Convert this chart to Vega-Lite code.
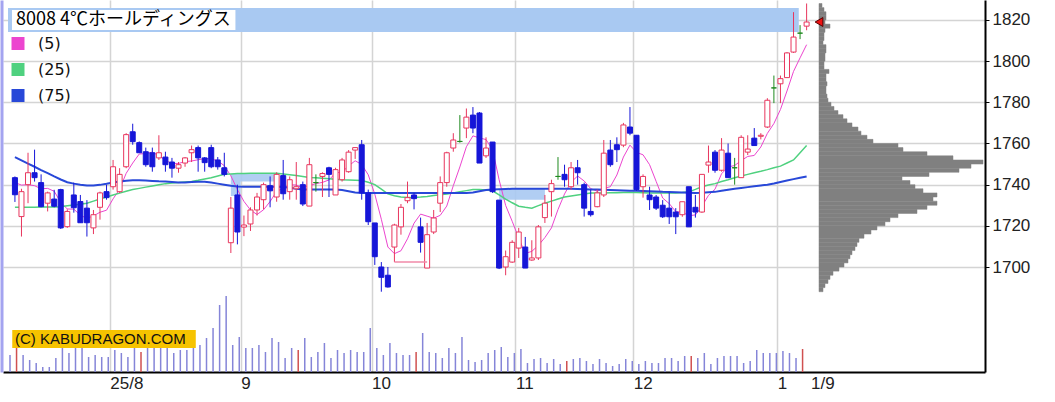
{
"$schema":"https://vega.github.io/schema/vega-lite/v6.json",
"width":982,"height":372,
"autosize":{"type":"none"},
"padding":{"left":3,"top":0,"right":70,"bottom":30},
"background":"#ffffff",
"config":{"view":{"stroke":null}},
"datasets":{
"p":[
{"d":"2025-07-10","i":0,"o":1743.4,"h":1744,"l":1731.6,"c":1735.1,"v":85000,"m5":1741,"m25":1729,"m75":1753.4},
{"d":"2025-07-11","i":1,"o":1724.5,"h":1738,"l":1714.8,"c":1736.6,"v":120000,"sq":1,"m5":1739.8,"m25":1729,"m75":1751.8},
{"d":"2025-07-14","i":2,"o":1740,"h":1755.5,"l":1731,"c":1745.8,"v":85000,"m5":1740,"m25":1729,"m75":1750.2},
{"d":"2025-07-15","i":3,"o":1745.8,"h":1757,"l":1741.5,"c":1743.4,"v":60000,"m5":1739.5,"m25":1729,"m75":1748.7},
{"d":"2025-07-16","i":4,"o":1741,"h":1745,"l":1729,"c":1729.3,"v":45000,"m5":1738,"m25":1729.1,"m75":1747.1},
{"d":"2025-07-17","i":5,"o":1731,"h":1736.6,"l":1727,"c":1736,"v":25000,"m5":1738.2,"m25":1729.1,"m75":1745.6},
{"d":"2025-07-18","i":6,"o":1733,"h":1737.5,"l":1729,"c":1729.5,"v":25000,"m5":1736.8,"m25":1729.2,"m75":1744},
{"d":"2025-07-22","i":7,"o":1737.6,"h":1738,"l":1718.5,"c":1719,"v":70000,"m5":1731.4,"m25":1729.3,"m75":1742.5},
{"d":"2025-07-23","i":8,"o":1719.6,"h":1728,"l":1719,"c":1727,"v":120000,"m5":1728.2,"m25":1729.7,"m75":1741.2},
{"d":"2025-07-24","i":9,"o":1735,"h":1741,"l":1726.4,"c":1728.8,"v":95000,"m5":1728.1,"m25":1730.1,"m75":1740.5},
{"d":"2025-07-25","i":10,"o":1731.8,"h":1735,"l":1721.5,"c":1721.5,"v":120000,"m5":1725.2,"m25":1730.5,"m75":1740},
{"d":"2025-07-28","i":11,"o":1728.6,"h":1732.5,"l":1714.8,"c":1721.5,"v":120000,"m5":1723.6,"m25":1731,"m75":1739.6},
{"d":"2025-07-29","i":12,"o":1719,"h":1727.7,"l":1716,"c":1725.4,"v":75000,"m5":1724.8,"m25":1732,"m75":1739.6},
{"d":"2025-07-30","i":13,"o":1729,"h":1736.6,"l":1723,"c":1736,"v":85000,"m5":1726.6,"m25":1733,"m75":1739.9},
{"d":"2025-07-31","i":14,"o":1736.6,"h":1740,"l":1732.7,"c":1733.7,"v":75000,"m5":1727.6,"m25":1734,"m75":1740.4},
{"d":"2025-08-01","i":15,"o":1739,"h":1752,"l":1737.6,"c":1748.7,"v":75000,"m5":1733.1,"m25":1735,"m75":1741},
{"d":"2025-08-04","i":16,"o":1736.6,"h":1748,"l":1736,"c":1745,"v":110000,"m5":1737.8,"m25":1735.9,"m75":1741.5},
{"d":"2025-08-05","i":17,"o":1748.7,"h":1765,"l":1748,"c":1764.3,"v":95000,"m5":1745.5,"m25":1736.8,"m75":1741.9},
{"d":"2025-08-06","i":18,"o":1765.7,"h":1769.6,"l":1759.4,"c":1760.9,"v":75000,"m5":1750.5,"m25":1737.6,"m75":1742.2},
{"d":"2025-08-07","i":19,"o":1760.4,"h":1761,"l":1755.5,"c":1755.5,"v":120000,"m5":1754.9,"m25":1738.2,"m75":1742.2},
{"d":"2025-08-08","i":20,"o":1756,"h":1758,"l":1748.7,"c":1749.7,"v":100000,"sq":1,"m5":1755.1,"m25":1738.8,"m75":1742},
{"d":"2025-08-12","i":21,"o":1755.5,"h":1758,"l":1746.3,"c":1748.7,"v":120000,"m5":1755.8,"m25":1739.4,"m75":1741.8},
{"d":"2025-08-13","i":22,"o":1753,"h":1764,"l":1752,"c":1755.5,"v":120000,"m5":1754.1,"m25":1740,"m75":1741.6},
{"d":"2025-08-14","i":23,"o":1753.4,"h":1756,"l":1746.3,"c":1749.7,"v":120000,"m5":1751.8,"m25":1740.5,"m75":1741.5},
{"d":"2025-08-15","i":24,"o":1751,"h":1753,"l":1743.4,"c":1748,"v":120000,"m5":1750.3,"m25":1740.8,"m75":1741.3},
{"d":"2025-08-18","i":25,"o":1748,"h":1751,"l":1745.8,"c":1749.7,"v":95000,"m5":1750.3,"m25":1741,"m75":1741.1},
{"d":"2025-08-19","i":26,"o":1750.5,"h":1753.4,"l":1748.7,"c":1753,"v":110000,"m5":1751.2,"m25":1741.3,"m75":1741.1},
{"d":"2025-08-20","i":27,"o":1755.5,"h":1759,"l":1751,"c":1757,"v":110000,"m5":1751.5,"m25":1741.5,"m75":1741.3},
{"d":"2025-08-21","i":28,"o":1758,"h":1759,"l":1746.3,"c":1753,"v":120000,"m5":1752.1,"m25":1742.1,"m75":1741.4},
{"d":"2025-08-22","i":29,"o":1753,"h":1753.4,"l":1746.3,"c":1750.7,"v":135000,"m5":1752.7,"m25":1742.8,"m75":1741.4},
{"d":"2025-08-25","i":30,"o":1758,"h":1759.4,"l":1748,"c":1748.7,"v":170000,"m5":1752.5,"m25":1743.4,"m75":1741},
{"d":"2025-08-26","i":31,"o":1752,"h":1753.4,"l":1747.3,"c":1748.7,"v":220000,"m5":1751.6,"m25":1744.2,"m75":1740.5},
{"d":"2025-08-27","i":32,"o":1748.2,"h":1755.5,"l":1744,"c":1745,"v":335000,"m5":1749.2,"m25":1745,"m75":1740},
{"d":"2025-08-28","i":33,"o":1711.8,"h":1734,"l":1706.8,"c":1728.6,"v":380000,"m5":1744.3,"m25":1745.2,"m75":1739.5},
{"d":"2025-08-29","i":34,"o":1735,"h":1740,"l":1711,"c":1717,"v":135000,"m5":1737.6,"m25":1745.4,"m75":1739.1},
{"d":"2025-09-01","i":35,"o":1719.4,"h":1725,"l":1715,"c":1720.4,"v":175000,"m5":1731.9,"m25":1745.4,"m75":1739},
{"d":"2025-09-02","i":36,"o":1720.9,"h":1729,"l":1717.5,"c":1727.7,"v":120000,"m5":1727.7,"m25":1745.5,"m75":1739},
{"d":"2025-09-03","i":37,"o":1727.7,"h":1736,"l":1725,"c":1734,"v":120000,"m5":1725.5,"m25":1745.5,"m75":1739},
{"d":"2025-09-04","i":38,"o":1732.7,"h":1741,"l":1728,"c":1740,"v":135000,"m5":1727.8,"m25":1745.6,"m75":1739},
{"d":"2025-09-05","i":39,"o":1739.5,"h":1744,"l":1729,"c":1737,"v":100000,"m5":1731.8,"m25":1745.6,"m75":1739},
{"d":"2025-09-08","i":40,"o":1734,"h":1746,"l":1731.7,"c":1745,"v":170000,"m5":1736.7,"m25":1745.6,"m75":1739},
{"d":"2025-09-09","i":41,"o":1744.4,"h":1752,"l":1732.7,"c":1735.6,"v":150000,"m5":1738.3,"m25":1745.2,"m75":1738.9},
{"d":"2025-09-10","i":42,"o":1736.6,"h":1744,"l":1732.7,"c":1742.4,"v":70000,"m5":1740,"m25":1744.8,"m75":1738.5},
{"d":"2025-09-11","i":43,"o":1738,"h":1751,"l":1732.7,"c":1739,"v":120000,"m5":1739.8,"m25":1744.4,"m75":1738},
{"d":"2025-09-12","i":44,"o":1740,"h":1741.5,"l":1729.6,"c":1730.6,"v":110000,"sq":1,"m5":1738.5,"m25":1744,"m75":1737.7},
{"d":"2025-09-16","i":45,"o":1729.6,"h":1753,"l":1729.6,"c":1749.7,"v":170000,"m5":1739.5,"m25":1743.5,"m75":1737.6},
{"d":"2025-09-17","i":46,"o":1741,"h":1745,"l":1736.6,"c":1741,"v":75000,"m5":1740.5,"m25":1743.3,"m75":1737.6},
{"d":"2025-09-18","i":47,"o":1744,"h":1746,"l":1734,"c":1745.4,"v":100000,"m5":1741.1,"m25":1743.1,"m75":1737.6},
{"d":"2025-09-19","i":48,"o":1748.2,"h":1748.7,"l":1734,"c":1745,"v":145000,"m5":1742.3,"m25":1742.9,"m75":1737.6},
{"d":"2025-09-22","i":49,"o":1735,"h":1748.2,"l":1735,"c":1747.3,"v":70000,"m5":1745.7,"m25":1742.6,"m75":1737.6},
{"d":"2025-09-24","i":50,"o":1742.4,"h":1753,"l":1741.5,"c":1752,"v":110000,"m5":1746.1,"m25":1742.4,"m75":1737.4},
{"d":"2025-09-25","i":51,"o":1746.3,"h":1756.8,"l":1745.8,"c":1755.8,"v":95000,"m5":1749.1,"m25":1742.3,"m75":1736.8},
{"d":"2025-09-26","i":52,"o":1756.8,"h":1758.2,"l":1752.5,"c":1758,"v":110000,"m5":1751.6,"m25":1742.2,"m75":1736.2},
{"d":"2025-09-29","i":53,"o":1759.4,"h":1761.7,"l":1732.7,"c":1736,"v":100000,"m5":1749.8,"m25":1742,"m75":1736},
{"d":"2025-09-30","i":54,"o":1736,"h":1737.6,"l":1720.4,"c":1722,"v":100000,"m5":1744.8,"m25":1741.2,"m75":1736},
{"d":"2025-10-01","i":55,"o":1721.4,"h":1721.4,"l":1701,"c":1705,"v":220000,"m5":1735.4,"m25":1740,"m75":1736},
{"d":"2025-10-02","i":56,"o":1700,"h":1702.4,"l":1688,"c":1695,"v":120000,"m5":1723.2,"m25":1737.8,"m75":1736},
{"d":"2025-10-03","i":57,"o":1696,"h":1700,"l":1690,"c":1690.3,"v":85000,"m5":1709.7,"m25":1735.5,"m75":1736},
{"d":"2025-10-06","i":58,"o":1709.7,"h":1721,"l":1702.4,"c":1720.4,"v":145000,"m5":1706.5,"m25":1734.6,"m75":1736},
{"d":"2025-10-07","i":59,"o":1719.5,"h":1730.6,"l":1715.7,"c":1729,"v":95000,"m5":1707.9,"m25":1734,"m75":1736},
{"d":"2025-10-08","i":60,"o":1732.2,"h":1741.5,"l":1731,"c":1733.7,"v":85000,"m5":1713.7,"m25":1733.8,"m75":1736},
{"d":"2025-10-09","i":61,"o":1735,"h":1736,"l":1728,"c":1733.2,"v":85000,"m5":1721.3,"m25":1733.8,"m75":1736},
{"d":"2025-10-10","i":62,"o":1719.5,"h":1724,"l":1707,"c":1712,"v":100000,"sq":1,"m5":1725.7,"m25":1734,"m75":1736},
{"d":"2025-10-14","i":63,"o":1699.5,"h":1721.4,"l":1699.5,"c":1715.7,"v":195000,"m5":1724.7,"m25":1734.3,"m75":1736},
{"d":"2025-10-15","i":64,"o":1717,"h":1727.7,"l":1716,"c":1723.8,"v":100000,"m5":1723.7,"m25":1734.7,"m75":1736},
{"d":"2025-10-16","i":65,"o":1731,"h":1744,"l":1726.7,"c":1741,"v":95000,"m5":1725.1,"m25":1735.1,"m75":1736},
{"d":"2025-10-17","i":66,"o":1741,"h":1756,"l":1739,"c":1755.5,"v":70000,"m5":1729.6,"m25":1735.5,"m75":1736},
{"d":"2025-10-20","i":67,"o":1757.8,"h":1765,"l":1756,"c":1761.7,"v":120000,"m5":1739.5,"m25":1736,"m75":1736},
{"d":"2025-10-21","i":68,"o":1761,"h":1773.8,"l":1760.4,"c":1761,"v":95000,"m5":1748.6,"m25":1736.6,"m75":1736},
{"d":"2025-10-22","i":69,"o":1767.5,"h":1777,"l":1762.6,"c":1772.8,"v":175000,"m5":1758.4,"m25":1737.1,"m75":1736},
{"d":"2025-10-23","i":70,"o":1773.8,"h":1777.7,"l":1765,"c":1767.5,"v":60000,"m5":1763.7,"m25":1737.6,"m75":1736.2},
{"d":"2025-10-24","i":71,"o":1774.8,"h":1775.3,"l":1750.5,"c":1750.5,"v":50000,"m5":1762.7,"m25":1737.6,"m75":1736.8},
{"d":"2025-10-27","i":72,"o":1754,"h":1763,"l":1753,"c":1757.8,"v":60000,"m5":1761.9,"m25":1737.4,"m75":1737.4},
{"d":"2025-10-28","i":73,"o":1760.7,"h":1760.7,"l":1736,"c":1736.6,"v":95000,"m5":1757,"m25":1737,"m75":1737.7},
{"d":"2025-10-29","i":74,"o":1732.5,"h":1732.5,"l":1699,"c":1699.5,"v":110000,"m5":1742.4,"m25":1735,"m75":1737.8},
{"d":"2025-10-30","i":75,"o":1700,"h":1708,"l":1696,"c":1705,"v":125000,"m5":1729.9,"m25":1733,"m75":1737.9},
{"d":"2025-10-31","i":76,"o":1702.4,"h":1713,"l":1702,"c":1712,"v":75000,"m5":1722.2,"m25":1731.2,"m75":1738},
{"d":"2025-11-04","i":77,"o":1709.2,"h":1719,"l":1704.4,"c":1717,"v":95000,"m5":1714,"m25":1729.5,"m75":1738},
{"d":"2025-11-05","i":78,"o":1709.7,"h":1714.6,"l":1699.5,"c":1699.5,"v":115000,"m5":1706.6,"m25":1729,"m75":1738},
{"d":"2025-11-06","i":79,"o":1703.4,"h":1713,"l":1703,"c":1704.4,"v":45000,"m5":1707.6,"m25":1728.6,"m75":1738},
{"d":"2025-11-07","i":80,"o":1704.4,"h":1720.4,"l":1703.4,"c":1719.5,"v":65000,"m5":1710.5,"m25":1729.8,"m75":1738},
{"d":"2025-11-10","i":81,"o":1724,"h":1735,"l":1721.4,"c":1731,"v":70000,"m5":1714.3,"m25":1731,"m75":1738},
{"d":"2025-11-11","i":82,"o":1736.6,"h":1742.4,"l":1724.5,"c":1740.5,"v":45000,"m5":1719,"m25":1732,"m75":1738},
{"d":"2025-11-12","i":83,"o":1744,"h":1753.4,"l":1742.4,"c":1744,"v":65000,"m5":1727.9,"m25":1733,"m75":1738},
{"d":"2025-11-13","i":84,"o":1745,"h":1749.7,"l":1739,"c":1742.4,"v":40000,"m5":1735.5,"m25":1734,"m75":1738},
{"d":"2025-11-14","i":85,"o":1739,"h":1751,"l":1737.6,"c":1748.2,"v":55000,"sq":1,"m5":1741.2,"m25":1734.5,"m75":1738},
{"d":"2025-11-17","i":86,"o":1748.2,"h":1752,"l":1740,"c":1745.8,"v":65000,"m5":1744.2,"m25":1735,"m75":1737.9},
{"d":"2025-11-18","i":87,"o":1740,"h":1741,"l":1724.5,"c":1728.6,"v":70000,"m5":1741.8,"m25":1735.5,"m75":1737.8},
{"d":"2025-11-19","i":88,"o":1727,"h":1737.6,"l":1724.5,"c":1725.4,"v":55000,"m5":1738.1,"m25":1736,"m75":1737.7},
{"d":"2025-11-20","i":89,"o":1729.3,"h":1737.6,"l":1729,"c":1736,"v":40000,"m5":1736.8,"m25":1736,"m75":1737.6},
{"d":"2025-11-21","i":90,"o":1735,"h":1761.7,"l":1734,"c":1755.3,"v":65000,"m5":1738.2,"m25":1736,"m75":1737.5},
{"d":"2025-11-25","i":91,"o":1756.8,"h":1761.7,"l":1748.7,"c":1749.7,"v":45000,"m5":1739,"m25":1736.1,"m75":1737.4},
{"d":"2025-11-26","i":92,"o":1759.4,"h":1763,"l":1751,"c":1757,"v":30000,"m5":1744.7,"m25":1736.1,"m75":1737.3},
{"d":"2025-11-27","i":93,"o":1759.2,"h":1770,"l":1758.2,"c":1769,"v":40000,"m5":1753.4,"m25":1736.2,"m75":1737.2},
{"d":"2025-11-28","i":94,"o":1768,"h":1777.7,"l":1764,"c":1765,"v":65000,"m5":1759.2,"m25":1736.2,"m75":1737.1},
{"d":"2025-12-01","i":95,"o":1764,"h":1764,"l":1737,"c":1737.6,"v":55000,"m5":1755.7,"m25":1736.2,"m75":1737},
{"d":"2025-12-02","i":96,"o":1739,"h":1745,"l":1733.7,"c":1744,"v":40000,"m5":1754.5,"m25":1736.1,"m75":1736.9},
{"d":"2025-12-03","i":97,"o":1735,"h":1739,"l":1727.7,"c":1732.7,"v":55000,"m5":1749.7,"m25":1736,"m75":1736.8},
{"d":"2025-12-04","i":98,"o":1734,"h":1735,"l":1727.7,"c":1728.6,"v":45000,"m5":1741.6,"m25":1736,"m75":1736.7},
{"d":"2025-12-05","i":99,"o":1730,"h":1732.5,"l":1723.8,"c":1724.4,"v":45000,"m5":1733.5,"m25":1735.9,"m75":1736.5},
{"d":"2025-12-08","i":100,"o":1728.6,"h":1736,"l":1720.9,"c":1724.4,"v":70000,"m5":1730.8,"m25":1735.9,"m75":1736.4},
{"d":"2025-12-09","i":101,"o":1726.7,"h":1728.6,"l":1716,"c":1724.4,"v":70000,"m5":1726.9,"m25":1736,"m75":1736.3},
{"d":"2025-12-10","i":102,"o":1725.4,"h":1731.7,"l":1724.4,"c":1731.7,"v":55000,"m5":1726.7,"m25":1736.2,"m75":1736.2},
{"d":"2025-12-11","i":103,"o":1739,"h":1739,"l":1719.5,"c":1719.5,"v":80000,"m5":1724.9,"m25":1736.5,"m75":1736.1},
{"d":"2025-12-12","i":104,"o":1729,"h":1735,"l":1724,"c":1726.7,"v":80000,"sq":1,"m5":1725.3,"m25":1737.7,"m75":1736},
{"d":"2025-12-15","i":105,"o":1726.7,"h":1745,"l":1726.3,"c":1745,"v":70000,"m5":1729.5,"m25":1739,"m75":1736.1},
{"d":"2025-12-16","i":106,"o":1749.5,"h":1759,"l":1745.8,"c":1751,"v":95000,"m5":1734.8,"m25":1739.8,"m75":1736.3},
{"d":"2025-12-17","i":107,"o":1755.8,"h":1756.8,"l":1745.8,"c":1747,"v":40000,"m5":1737.8,"m25":1740.5,"m75":1736.5},
{"d":"2025-12-18","i":108,"o":1747,"h":1762.6,"l":1746.3,"c":1756.8,"v":70000,"m5":1745.3,"m25":1741.5,"m75":1737},
{"d":"2025-12-19","i":109,"o":1755.3,"h":1760,"l":1743.4,"c":1743.4,"v":80000,"m5":1748.6,"m25":1742.4,"m75":1737.5},
{"d":"2025-12-22","i":110,"o":1748.2,"h":1753,"l":1740,"c":1748.2,"v":80000,"m5":1749.3,"m25":1743.4,"m75":1738},
{"d":"2025-12-23","i":111,"o":1743.4,"h":1764,"l":1743.4,"c":1763,"v":80000,"m5":1751.7,"m25":1744.2,"m75":1738.4},
{"d":"2025-12-24","i":112,"o":1755.8,"h":1764,"l":1754.4,"c":1757.3,"v":45000,"m5":1753.7,"m25":1745,"m75":1738.8},
{"d":"2025-12-25","i":113,"o":1762.6,"h":1767.5,"l":1759,"c":1759,"v":55000,"m5":1754.2,"m25":1745.8,"m75":1739.2},
{"d":"2025-12-26","i":114,"o":1763.5,"h":1765,"l":1762,"c":1764,"v":110000,"m5":1758.3,"m25":1746.5,"m75":1739.6},
{"d":"2025-12-29","i":115,"o":1768,"h":1782,"l":1767.5,"c":1781,"v":95000,"m5":1764.9,"m25":1747.3,"m75":1740},
{"d":"2025-12-30","i":116,"o":1787,"h":1793,"l":1779.6,"c":1787,"v":95000,"m5":1769.7,"m25":1748.2,"m75":1740.6},
{"d":"2026-01-05","i":117,"o":1789,"h":1793,"l":1779.6,"c":1791.5,"v":95000,"m5":1776.5,"m25":1749,"m75":1741.3},
{"d":"2026-01-06","i":118,"o":1792,"h":1804.4,"l":1792,"c":1804,"v":105000,"m5":1785.5,"m25":1750.5,"m75":1742},
{"d":"2026-01-07","i":119,"o":1804.4,"h":1823.8,"l":1804,"c":1811.7,"v":95000,"m5":1795,"m25":1752,"m75":1742.7},
{"d":"2026-01-08","i":120,"o":1813.6,"h":1817.5,"l":1810.7,"c":1813.6,"v":70000,"m5":1801.6,"m25":1755.5,"m75":1743.4},
{"d":"2026-01-09","i":121,"o":1817,"h":1828,"l":1815,"c":1819,"v":115000,"sq":1,"m5":1808,"m25":1759,"m75":1744}
],
"cloud":[
{"seg":"a","i":33,"hi":1745.2,"lo":1734.5},{"seg":"a","i":34,"hi":1745.4,"lo":1734.5},{"seg":"a","i":35,"hi":1745.4,"lo":1741.5},{"seg":"a","i":36,"hi":1745.5,"lo":1741.5},{"seg":"a","i":37,"hi":1745.5,"lo":1741.5},{"seg":"a","i":38,"hi":1745.6,"lo":1741.5},{"seg":"a","i":39,"hi":1745.6,"lo":1741.5},{"seg":"a","i":40,"hi":1745.6,"lo":1741.5},
{"seg":"b","i":74,"hi":1737.8,"lo":1732.7},{"seg":"b","i":75,"hi":1737.9,"lo":1732.7},{"seg":"b","i":76,"hi":1738,"lo":1732.7},{"seg":"b","i":77,"hi":1738,"lo":1732.7},{"seg":"b","i":78,"hi":1738,"lo":1732.7},{"seg":"b","i":79,"hi":1738,"lo":1732.7},{"seg":"b","i":80,"hi":1738,"lo":1732.7},{"seg":"b","i":81,"hi":1738,"lo":1732.7}
],
"prof":[
{"lo":1826,"hi":1828,"w":3000},{"lo":1824,"hi":1826,"w":5000},{"lo":1822,"hi":1824,"w":7000},{"lo":1820,"hi":1822,"w":7000},{"lo":1818,"hi":1820,"w":6000},{"lo":1816,"hi":1818,"w":11000},{"lo":1814,"hi":1816,"w":6000},{"lo":1812,"hi":1814,"w":5000},{"lo":1810,"hi":1812,"w":5000},{"lo":1808,"hi":1810,"w":4000},{"lo":1806,"hi":1808,"w":7000},{"lo":1804,"hi":1806,"w":7000},{"lo":1802,"hi":1804,"w":6000},{"lo":1800,"hi":1802,"w":6000},{"lo":1798,"hi":1800,"w":5000},{"lo":1796,"hi":1798,"w":5000},{"lo":1794,"hi":1796,"w":10000},{"lo":1792,"hi":1794,"w":7000},{"lo":1790,"hi":1792,"w":7000},{"lo":1788,"hi":1790,"w":8000},{"lo":1786,"hi":1788,"w":7000},{"lo":1784,"hi":1786,"w":7000},{"lo":1782,"hi":1784,"w":8000},{"lo":1780,"hi":1782,"w":9000},{"lo":1778,"hi":1780,"w":12000},{"lo":1776,"hi":1778,"w":15000},{"lo":1774,"hi":1776,"w":19000},{"lo":1772,"hi":1774,"w":24000},{"lo":1770,"hi":1772,"w":28000},{"lo":1768,"hi":1770,"w":33000},{"lo":1766,"hi":1768,"w":39000},{"lo":1764,"hi":1766,"w":42000},{"lo":1762,"hi":1764,"w":48000},{"lo":1760,"hi":1762,"w":54000},{"lo":1758,"hi":1760,"w":79000},{"lo":1756,"hi":1758,"w":84000},{"lo":1754,"hi":1756,"w":108000},{"lo":1752,"hi":1754,"w":134000},{"lo":1750,"hi":1752,"w":164000},{"lo":1748,"hi":1750,"w":152000},{"lo":1746,"hi":1748,"w":140000},{"lo":1744,"hi":1746,"w":110000},{"lo":1742,"hi":1744,"w":83000},{"lo":1740,"hi":1742,"w":91000},{"lo":1738,"hi":1740,"w":96000},{"lo":1736,"hi":1738,"w":104000},{"lo":1734,"hi":1736,"w":118000},{"lo":1732,"hi":1734,"w":114000},{"lo":1730,"hi":1732,"w":118000},{"lo":1728,"hi":1730,"w":108000},{"lo":1726,"hi":1728,"w":98000},{"lo":1724,"hi":1726,"w":79000},{"lo":1722,"hi":1724,"w":71000},{"lo":1720,"hi":1722,"w":66000},{"lo":1718,"hi":1720,"w":58000},{"lo":1716,"hi":1718,"w":52000},{"lo":1714,"hi":1716,"w":45000},{"lo":1712,"hi":1714,"w":40000},{"lo":1710,"hi":1712,"w":38000},{"lo":1708,"hi":1710,"w":36000},{"lo":1706,"hi":1708,"w":33000},{"lo":1704,"hi":1706,"w":31000},{"lo":1702,"hi":1704,"w":29000},{"lo":1700,"hi":1702,"w":25000},{"lo":1698,"hi":1700,"w":20000},{"lo":1696,"hi":1698,"w":14000},{"lo":1694,"hi":1696,"w":11000},{"lo":1692,"hi":1694,"w":9000},{"lo":1690,"hi":1692,"w":6000},{"lo":1688,"hi":1690,"w":4000}
]
},
"resolve":{"scale":{"x":"independent","y":"independent"},"axis":{"x":"independent","y":"independent"}},
"layer":[
{
"data":{"name":"p"},
"mark":{"type":"rule","strokeWidth":1.5},
"encoding":{
"x":{"field":"i","type":"quantitative","scale":{"domain":[-1.069,148.85],"nice":false,"zero":false},"axis":null},
"y":{"field":"v","type":"quantitative","scale":{"domain":[0,1860000],"nice":false},"axis":{"orient":"left","labels":false,"ticks":false,"grid":false,"title":null,"domainColor":"#a4a4f0","domainWidth":3,"offset":1.5}},
"y2":{"datum":0},
"color":{"condition":{"test":"datum.sq == 1","value":"#d05050"},"value":"#8585d8"}
}
},
{
"data":{"name":"p"},
"layer":[
{
"data":{"name":"cloud"},
"mark":{"type":"area","interpolate":"step","color":"#a9c9f2","opacity":0.9},
"encoding":{
"x":{"field":"i","type":"quantitative","scale":{"domain":[-1.06,147.5],"nice":false,"zero":false}},
"y":{"field":"hi","type":"quantitative","scale":{"domain":[1649,1829.7],"nice":false,"zero":false}},
"y2":{"field":"lo"},
"detail":{"field":"seg"}
}
},
{
"data":{"values":[{}]},
"mark":{"type":"rect","color":"#a9c9f2"},
"encoding":{"x":{"datum":-1.06},"x2":{"datum":119.8},"y":{"datum":1825.8},"y2":{"datum":1814.1}}
},
{
"data":{"values":[{}]},
"mark":{"type":"rect","color":"#ffffff"},
"encoding":{"x":{"datum":-0.45},"x2":{"datum":33.7},"y":{"datum":1824.8},"y2":{"datum":1815.1}}
},
{
"data":{"values":[{}]},
"mark":{"type":"text","text":"8008 4℃ホールディングス","align":"left","baseline":"middle","font":"Noto Sans CJK JP","fontSize":18,"color":"#000000"},
"encoding":{"x":{"datum":0.15},"y":{"datum":1819.8}}
},
{
"mark":{"type":"line","strokeWidth":1},
"encoding":{
"x":{"field":"i","type":"quantitative"},
"y":{"field":"m5","type":"quantitative"},
"color":{"datum":"(5)","scale":{"domain":["(5)","(25)","(75)"],"range":["#ec45cf","#4fd17f","#2848d8"]},
"legend":{"orient":"none","legendX":7,"legendY":35.5,"title":null,"symbolType":"square","symbolSize":169,"symbolStrokeWidth":0,"labelFont":"DejaVu Sans","labelFontSize":16,"labelColor":"#111111","labelOffset":12,"rowPadding":10,"padding":0,
"encode":{"symbols":{"update":{"strokeWidth":{"value":0},"fillOpacity":{"value":1},"fill":{"signal":"datum.value === '(5)' ? '#ec45cf' : datum.value === '(25)' ? '#4fd17f' : '#2848d8'"}}}}}}
}
},
{
"mark":{"type":"line","strokeWidth":1.5},
"encoding":{"x":{"field":"i","type":"quantitative"},"y":{"field":"m25","type":"quantitative"},"color":{"datum":"(25)"}}
},
{
"mark":{"type":"line","strokeWidth":2},
"encoding":{"x":{"field":"i","type":"quantitative"},"y":{"field":"m75","type":"quantitative"},"color":{"datum":"(75)"}}
},
{
"mark":{"type":"rule","strokeWidth":1},
"encoding":{
"x":{"field":"i","type":"quantitative","scale":{"domain":[-1.06,147.5],"nice":false,"zero":false},
"axis":{"orient":"bottom","values":[14.5,34.5,54.5,76.5,94.5,116.5,121.6],"labelExpr":"datum.value < 15 ? '25/8' : datum.value < 35 ? '9' : datum.value < 55 ? '10' : datum.value < 77 ? '11' : datum.value < 95 ? '12' : datum.value < 117 ? '1' : '1/9'","labelAlign":"left","labelBaseline":"top","labelPadding":3,"ticks":false,"domainColor":"#000000","domainWidth":2,"grid":true,"gridColor":"#d4d4d4","gridWidth":1.5,"gridOpacity":{"condition":{"test":"datum.value > 120","value":0},"value":1},"labelFont":"Liberation Sans","labelFontSize":17,"labelColor":"#222222","labelOverlap":false,"labelBound":false,"labelFlush":false,"title":null}},
"y":{"field":"l","type":"quantitative","scale":{"domain":[1649,1829.7],"nice":false,"zero":false},
"axis":{"orient":"right","values":[1700,1720,1740,1760,1780,1800,1820],"format":"d","title":null,"labelFont":"Liberation Sans","labelFontSize":17,"labelColor":"#222222","tickSize":4,"tickColor":"#000000","domainColor":"#000000","domainWidth":2,"grid":true,"gridColor":"#d4d4d4","gridWidth":1.5,"labelPadding":3}},
"y2":{"field":"h"},
"color":{"condition":[{"test":"datum.c > datum.o","value":"#e8365e"},{"test":"datum.c < datum.o","value":"#1616d8"}],"value":"#1f8a1f"}
}
},
{
"mark":{"type":"bar","size":5,"strokeWidth":1},
"encoding":{
"x":{"field":"i","type":"quantitative"},
"y":{"field":"o","type":"quantitative"},
"y2":{"field":"c"},
"fill":{"condition":[{"test":"datum.c > datum.o","value":"#ffffff"},{"test":"datum.c < datum.o","value":"#1616d8"}],"value":"#1f8a1f"},
"stroke":{"condition":[{"test":"datum.c > datum.o","value":"#e8365e"},{"test":"datum.c < datum.o","value":"#1616d8"}],"value":"#1f8a1f"}
}
},
{
"data":{"values":[{}]},
"mark":{"type":"rule","color":"#f08aa8","strokeWidth":1.5},
"encoding":{"x":{"datum":58},"x2":{"datum":63},"y":{"datum":1702.4}}
},
{
"data":{"values":[{}]},
"mark":{"type":"rect","color":"#f6c300"},
"encoding":{"x":{"datum":-0.41},"x2":{"datum":27.64},"y":{"datum":1669.4},"y2":{"datum":1660.6}}
},
{
"data":{"values":[{}]},
"mark":{"type":"text","text":"(C) KABUDRAGON.COM","align":"left","baseline":"middle","font":"Liberation Sans","fontSize":15,"color":"#111111"},
"encoding":{"x":{"datum":0},"y":{"datum":1665}}
}
]
},
{
"layer":[
{
"data":{"name":"prof"},
"mark":{"type":"rect","color":"#808080","stroke":"#808080","strokeWidth":0.5},
"encoding":{
"x":{"field":"w","type":"quantitative","scale":{"domain":[-816000,166000],"nice":false,"zero":false},"axis":null},
"x2":{"datum":0},
"y":{"field":"lo","type":"quantitative","scale":{"domain":[1649,1829.7],"nice":false,"zero":false},"axis":null},
"y2":{"field":"hi"}
}
},
{
"data":{"values":[{}]},
"mark":{"type":"point","shape":"triangle-left","size":80,"filled":true,"fill":"#ee1111","stroke":"#550000","strokeWidth":1,"opacity":1},
"encoding":{"x":{"datum":0},"y":{"datum":1819}}
}
]
}
]
}
